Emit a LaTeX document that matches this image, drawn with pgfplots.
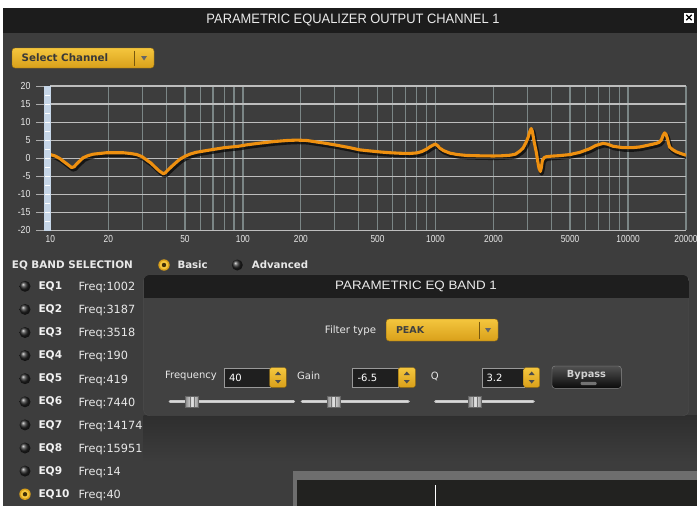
\documentclass[border=0pt]{standalone}
\usepackage{pgfplots}
\pgfplotsset{compat=1.18}
\usepackage{pgfplotstable}
\usepackage{graphicx}
\usepackage{fontspec}
\setmainfont{DejaVu Sans}
\newfontfamily\lib{Liberation Sans}
\definecolor{bg}{HTML}{3D3D3D}
\definecolor{titlebar}{HTML}{1C1C1C}
\definecolor{hgrid}{HTML}{BDBDBD}
\definecolor{vgrid}{HTML}{7B8686}
\definecolor{curve}{HTML}{EE9010}
\definecolor{barblue}{HTML}{C6D6E8}
\definecolor{ytop}{HTML}{F4C63E}
\definecolor{ybot}{HTML}{D9A01A}
\definecolor{ltext}{HTML}{E8E8E8}
\definecolor{panel}{HTML}{414141}
\definecolor{panelhead}{HTML}{1E1E1E}
\definecolor{boxborder}{HTML}{6E6E6E}
\definecolor{boxin}{HTML}{222220}

\pgfplotstableread{
f g
10 1.0
10.6 0.6
11.2 -0.1
12.2 -1.6
12.9 -2.6
13.3 -2.4
13.7 -1.6
14.8 0.1
15.7 0.7
16.7 1.1
18.1 1.3
19.6 1.5
21.5 1.5
23.9 1.5
26 1.3
28.1 1.0
30 0.4
31.6 -0.5
33.2 -1.3
34.9 -2.4
36.7 -3.5
38.6 -4.3
39.5 -4.1
40.6 -3.4
42.7 -2.3
45 -1.2
47.1 -0.3
50 0.5
53 1.1
57 1.6
63 2.0
70 2.4
80 2.9
95 3.3
105 3.7
120 4.1
145 4.6
170 4.9
190 5.0
215 4.9
240 4.5
270 4.1
306 3.6
359 2.9
404 2.3
456 2.0
520 1.7
580 1.5
660 1.35
736 1.3
800 1.45
846 1.8
900 2.5
934 3.1
970 3.6
1000 3.9
1030 3.4
1052 2.8
1100 2.1
1186 1.4
1300 1.0
1449 0.75
1700 0.65
2000 0.6
2200 0.65
2431 0.8
2600 1.1
2750 2.0
2850 2.8
2950 4.3
3030 5.8
3090 7.4
3140 8.2
3180 7.6
3210 6.4
3260 4.3
3343 1.5
3400 -1.0
3449 -2.8
3507 -3.7
3550 -2.5
3591 -0.6
3680 0.2
3768 0.4
4000 0.55
4416 0.7
5000 1.0
5610 1.6
6320 2.6
6800 3.5
7413 4.1
7800 3.9
8353 3.3
9420 2.9
10500 2.9
11490 3.1
12500 3.5
14020 4.1
14500 4.4
14890 5.0
15200 6.3
15490 7.0
15750 6.6
15920 5.9
16200 4.3
16440 3.1
17000 2.4
17810 1.75
19000 1.2
20000 0.8
}\eqdata

\newcommand{\radiooff}[2]{\shade[ball color=black!85] (#1,#2) circle (5.5);}
\newcommand{\radioon}[2]{\fill[ybot] (#1,#2) circle (5.7);\fill[ytop] (#1,#2) circle (4.3);\fill[black!70!ybot] (#1,#2) circle (2.2);}
\newcommand{\spinner}[3]{% x1 x2 ytop
  \shadedraw[top color=ytop, bottom color=ybot, draw=ybot!70!black, rounded corners=2pt] (#1,#3) rectangle (#2,#3-19.6);
  \fill[black!70] ({(#1+#2)/2-3},#3-7.3) -- ({(#1+#2)/2+3},#3-7.3) -- ({(#1+#2)/2},#3-3.8) -- cycle;
  \fill[black!70] ({(#1+#2)/2-3},#3-12.3) -- ({(#1+#2)/2+3},#3-12.3) -- ({(#1+#2)/2},#3-15.8) -- cycle;}
\newcommand{\slider}[4]{% x1 x2 knob-left y
  \draw[line width=3.2pt, black!22, line cap=round] (#1,#4) -- (#2,#4);
  \draw[line width=1pt, white!85!black] (#1,#4+0.6) -- (#2,#4+0.6);
  \shadedraw[left color=black!45, right color=black!45, middle color=white!90!black, draw=black!60] (#3,#4+5.5) rectangle (#3+13,#4-5.5);
  \draw[black!55, line width=0.8pt] (#3+4.5,#4+5) -- (#3+4.5,#4-5) (#3+8.5,#4+5) -- (#3+8.5,#4-5);}

\begin{document}
\begin{tikzpicture}[x=1pt,y=1pt, lbl/.style={anchor=west, inner sep=0pt}]
\path[use as bounding box] (0,0) rectangle (697,-506);
\clip (0,0) rectangle (697,-506);
\fill[white] (0,0) rectangle (697,-506);
\fill[bg] (3,-8) rectangle (697,-506);
\fill[titlebar] (3,-8) rectangle (697,-32.7);
\node[inner sep=0pt] at (353,-20.3) {\color{white!92!black}\resizebox{293pt}{9.5pt}{\lib PARAMETRIC EQUALIZER OUTPUT CHANNEL 1}};
\fill[white] (684,-12.5) rectangle (694,-22.5);
\draw[black, line width=1.4pt] (686.3,-14.8) -- (691.7,-20.2) (686.3,-20.2) -- (691.7,-14.8);
% select channel
\shadedraw[top color=ytop, bottom color=ybot, draw=ybot!70!black, rounded corners=3pt] (12,-48) rectangle (154,-68);
\node[lbl, text=black!78, font=\bfseries\fontsize{10.3}{12}\selectfont] at (21.5,-58) {Select Channel};
\draw[ybot!55!black] (134,-50.5) -- (134,-65.5);
\fill[black!60] (141,-56) -- (147,-56) -- (144,-60.5) -- cycle;

\begin{axis}[
  at={(50.3pt,-230.3pt)}, anchor=south west, scale only axis,
  width=635.7pt, height=144.3pt,
  xmode=log, xmin=10, xmax=20000, ymin=-20, ymax=20,
  xtick={10,20,50,100,200,500,1000,2000,5000,10000,20000},
  xticklabels={10,20,50,100,200,500,1000,2000,5000,10000,20000},
  minor xtick={30,40,60,70,80,90,300,400,600,700,800,900,3000,4000,6000,7000,8000,9000},
  ytick={-20,-15,-10,-5,0,5,10,15,20},
  yticklabels={-20,-15,-10,-5,0,5,10,15,20},
  grid=both,
  x grid style={vgrid, line width=1.3pt},
  y grid style={hgrid, line width=1.1pt},
  axis line style={draw=none},
  major tick length=0pt, minor tick length=0pt,
  tick style={draw=none},
  xticklabel style={font=\lib\fontsize{10.2}{11}\selectfont, text=ltext, xscale=0.82, yshift=-1.8pt},
  yticklabel style={font=\lib\fontsize{10.2}{11}\selectfont, text=ltext, xscale=0.86, xshift=-19.5pt},
  axis background/.style={fill=bg},
]
\addplot[black, opacity=0.65, line width=4.2pt, line join=round, xshift=1.3pt, yshift=-2pt] table[x=f,y=g] {\eqdata};
\addplot[curve, line width=3.1pt, line join=round, line cap=round] table[x=f,y=g] {\eqdata};
\end{axis}
% left ruler
\foreach \k in {0,...,8} \draw[hgrid!85!bg, line width=1pt] (36,-86-18*\k) -- (44,-86-18*\k);
\fill[barblue] (44,-85.5) rectangle (51,-230.8);
\foreach \k in {1,...,15} \draw[white, line width=0.8pt] (45,-86-9*\k) -- (50,-86-9*\k);

% band selection
\node[lbl, text=ltext, font=\bfseries\fontsize{10.4}{12}\selectfont] at (11.7,-265) {EQ BAND SELECTION};
\radioon{164}{-265}
\node[lbl, text=ltext, font=\bfseries\fontsize{10.2}{12}\selectfont] at (177.3,-265) {Basic};
\radiooff{237.3}{-265}
\node[lbl, text=ltext, font=\bfseries\fontsize{10.2}{12}\selectfont] at (251.7,-265) {Advanced};
\foreach \i/\f in {1/1002,2/3187,3/3518,4/190,5/419,6/7440,7/14174,8/15951,9/14,10/40}{
  \pgfmathsetmacro{\yy}{-286.3-23.1*(\i-1)}
  \ifnum\i=10 \radioon{25}{\yy}\else\radiooff{25}{\yy}\fi
  \node[lbl, text=white!95!black, font=\bfseries\fontsize{10.6}{12}\selectfont] at (38.3,\yy) {EQ\i};
  \node[lbl, text=ltext, font=\fontsize{11.3}{13}\selectfont] at (78.3,\yy-1.3) {Freq:\f};
}

% panel shadow
\shade[top color=black!82, bottom color=bg] (143.6,-415) rectangle (697,-462);
% panel
\filldraw[fill=panel, draw=black!70, rounded corners=6pt] (143.6,-275) rectangle (688.8,-415.7);
\begin{scope}
\clip[rounded corners=6pt] (143.6,-275) rectangle (688.8,-415.7);
\fill[panelhead] (143.6,-275) rectangle (688.8,-297.7);
\end{scope}
\node[inner sep=0pt] at (416,-286.5) {\color{white!92!black}\resizebox{161.6pt}{8.5pt}{\lib PARAMETRIC EQ BAND 1}};
\node[lbl, text=ltext, font=\fontsize{10.2}{12}\selectfont] at (324.7,-330.7) {Filter type};
\shadedraw[top color=ytop, bottom color=ybot, draw=ybot!70!black, rounded corners=3pt] (386.2,-319) rectangle (498,-341);
\node[lbl, text=black!75, font=\bfseries\fontsize{9.5}{11}\selectfont] at (395.8,-330.3) {PEAK};
\draw[ybot!55!black] (479.2,-321.5) -- (479.2,-338.5);
\fill[black!60] (485,-328) -- (491,-328) -- (488,-332.5) -- cycle;

\node[lbl, text=ltext, font=\fontsize{10}{12}\selectfont] at (164.9,-376) {Frequency};
\filldraw[fill=black!88, draw=black!40] (224.2,-367.7) rectangle (269.7,-387.3);
\spinner{269.7}{286.4}{-367.7}
\node[lbl, text=white, font=\fontsize{10}{12}\selectfont] at (228.8,-378) {40};
\node[lbl, text=ltext, font=\fontsize{10}{12}\selectfont] at (297,-376) {Gain};
\filldraw[fill=black!88, draw=black!40] (352.4,-367.7) rectangle (398.3,-387.3);
\spinner{398.3}{415.3}{-367.7}
\node[lbl, text=white, font=\fontsize{10}{12}\selectfont] at (357.4,-378) {-6.5};
\node[lbl, text=ltext, font=\fontsize{10}{12}\selectfont] at (430.6,-376) {Q};
\filldraw[fill=black!88, draw=black!40] (482,-367.7) rectangle (523.7,-387.3);
\spinner{523.7}{539.6}{-367.7}
\node[lbl, text=white, font=\fontsize{10}{12}\selectfont] at (486.4,-378) {3.2};
\shadedraw[top color=black!68, bottom color=black!96, draw=black!45, rounded corners=3pt] (552,-366) rectangle (621.4,-388.3);
\node[text=black!18, font=\bfseries\fontsize{9.8}{11}\selectfont] at (586.5,-374.5) {Bypass};
\fill[black!55, rounded corners=1pt] (580.5,-381.8) rectangle (596.5,-385);

\slider{170.2}{293.5}{185.5}{-401.7}
\slider{302.3}{408.2}{327.2}{-401.7}
\slider{435.6}{533.2}{468.6}{-401.7}

% bottom right box
\fill[boxborder] (292.7,-471) rectangle (697,-506);
\fill[boxin] (296.7,-480) rectangle (697,-506);
\draw[white, line width=0.9pt] (435.3,-485) -- (435.3,-506);
\end{tikzpicture}
\end{document}
